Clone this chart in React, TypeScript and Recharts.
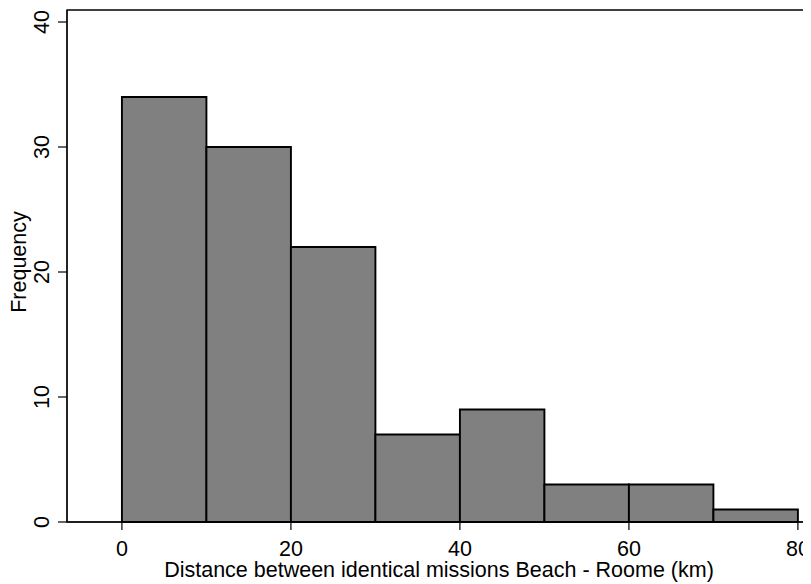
import React from "react";
import { ComposedChart, XAxis, YAxis, ReferenceArea } from "recharts";

const binStarts = [0, 10, 20, 30, 40, 50, 60, 70];
const binEnds = [10, 20, 30, 40, 50, 60, 70, 80];
const frequencies = [34, 30, 22, 7, 9, 3, 3, 1];
const xTicks = [0, 20, 40, 60, 80];
const yTicks = [0, 10, 20, 30, 40];
const xDomain: [number, number] = [-6.5, 81.55];
const yDomain: [number, number] = [0, 40.96];

const xTitle = "Distance between identical missions Beach - Roome (km)";
const yTitle = "Frequency";

const FONT = "'Liberation Sans', Arial, Helvetica, sans-serif";
const FS = 21.5;

const data = binStarts.map((s, i) => ({ start: s, end: binEnds[i], count: frequencies[i] }));

const YTick = (props: any) => {
  const { x, y, payload } = props;
  return (
    <text
      x={x}
      y={y}
      transform={`rotate(-90 ${x} ${y})`}
      textAnchor="middle"
      fontSize={FS}
      fontFamily={FONT}
      fill="#000"
    >
      {payload.value}
    </text>
  );
};

const XTick = (props: any) => {
  const { x, y, payload } = props;
  return (
    <text x={x} y={y} dy="0.71em" textAnchor="middle" fontSize={FS} fontFamily={FONT} fill="#000">
      {payload.value}
    </text>
  );
};

const YTitle = (props: any) => {
  const vb = props.viewBox || { x: 0, y: 0, width: 0, height: 0 };
  const x = vb.x + 18;
  const y = vb.y + vb.height / 2 - 4;
  return (
    <text
      x={x}
      y={y}
      transform={`rotate(-90 ${x} ${y})`}
      textAnchor="middle"
      fontSize={FS}
      fontFamily={FONT}
      fill="#000"
    >
      {yTitle}
    </text>
  );
};

const XTitle = (props: any) => {
  const vb = props.viewBox || { x: 0, y: 0, width: 0, height: 0 };
  return (
    <text
      x={vb.x + vb.width / 2}
      y={vb.y + 54.7}
      textAnchor="middle"
      fontSize={FS}
      fontFamily={FONT}
      fill="#000"
    >
      {xTitle}
    </text>
  );
};

export default function App() {
  return (
    <div style={{ width: 803, height: 576, overflow: "hidden" }}>
      <ComposedChart
        width={803}
        height={576}
        data={data}
        margin={{ top: 2, right: 0, bottom: 0, left: 0 }}
      >
        <XAxis
          type="number"
          dataKey="start"
          domain={xDomain}
          allowDataOverflow
          ticks={xTicks}
          interval={0}
          tickSize={8}
          tickMargin={11}
          height={62}
          tick={<XTick />}
          axisLine={{ stroke: "#000", strokeWidth: 1.2 }}
          tickLine={{ stroke: "#000", strokeWidth: 1.2 }}
          label={<XTitle />}
        />
        <YAxis
          type="number"
          domain={yDomain}
          allowDataOverflow
          ticks={yTicks}
          interval={0}
          tickSize={9}
          tickMargin={9}
          width={59}
          tick={<YTick />}
          axisLine={{ stroke: "#000", strokeWidth: 1.2 }}
          tickLine={{ stroke: "#000", strokeWidth: 1.2 }}
          label={<YTitle />}
        />
        <ReferenceArea
          x1={xDomain[0]}
          x2={xDomain[1]}
          y1={yDomain[0]}
          y2={yDomain[1]}
          fill="none"
          fillOpacity={0}
          stroke="#000"
          strokeWidth={1.3}
          ifOverflow="visible"
        />
        {data.map((d, i) => (
          <ReferenceArea
            key={i}
            x1={d.start}
            x2={d.end}
            y1={0}
            y2={d.count}
            fill="#808080"
            fillOpacity={1}
            stroke="#000"
            strokeWidth={1.9}
            ifOverflow="visible"
          />
        ))}
      </ComposedChart>
    </div>
  );
}
